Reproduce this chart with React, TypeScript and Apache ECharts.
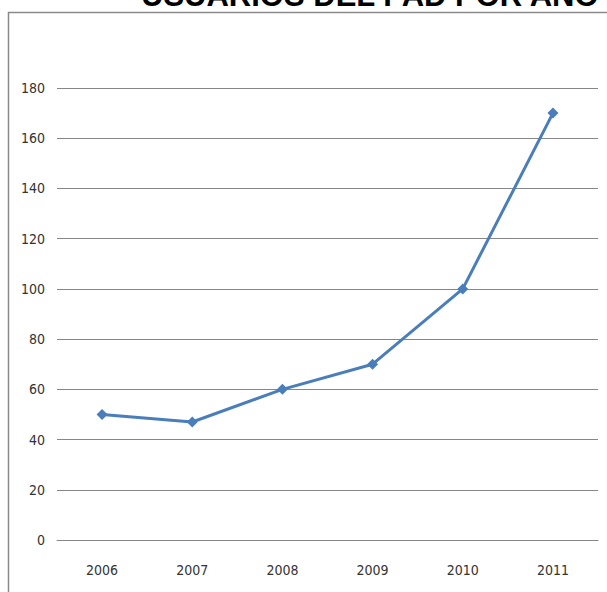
import React, { useEffect, useRef } from "react";
import * as echarts from "echarts";

const titleText = "USUARIOS DEL PAD POR AÑO";
const years = ["2006", "2007", "2008", "2009", "2010", "2011"];
const users = [50, 47, 60, 70, 100, 170];
const yMin = 0;
const yMax = 180;
const yStep = 20;

const labelFont = "'Liberation Sans Narrow', 'DejaVu Sans Condensed', 'Liberation Sans', sans-serif";

export default function App() {
  const ref = useRef<HTMLDivElement>(null);
  useEffect(() => {
    if (!ref.current) return;
    const chart = echarts.init(ref.current, null, { renderer: "svg" });
    chart.setOption({
      animation: false,
      backgroundColor: "#ffffff",
      grid: { left: 57, right: 9, top: 88, bottom: 52, containLabel: false },
      graphic: [
        {
          type: "rect",
          shape: { x: 8.5, y: 12.5, width: 700, height: 700 },
          style: { fill: "none", stroke: "#8a8a8a", lineWidth: 1.5 },
          silent: true,
        },
        {
          type: "text",
          x: 141,
          y: 11,
          style: {
            text: titleText,
            font: "bold 31px 'Liberation Sans', Arial, sans-serif",
            fill: "#000000",
            textVerticalAlign: "bottom",
            verticalAlign: "bottom",
          },
          silent: true,
        },
      ],
      xAxis: {
        type: "category",
        data: years,
        boundaryGap: true,
        axisLine: { show: true, lineStyle: { color: "#868686", width: 1 } },
        axisTick: { show: false },
        axisLabel: {
          margin: 23,
          color: "#333333",
          fontSize: 14,
          fontFamily: labelFont,
        },
        splitLine: { show: false },
      },
      yAxis: {
        type: "value",
        min: yMin,
        max: yMax,
        interval: yStep,
        axisLine: { show: false },
        axisTick: { show: false },
        axisLabel: {
          margin: 12,
          color: "#333333",
          fontSize: 14,
          fontFamily: labelFont,
        },
        splitLine: { show: true, lineStyle: { color: "#868686", width: 1 } },
      },
      series: [
        {
          type: "line",
          data: users,
          lineStyle: { color: "#4a7ebb", width: 3 },
          itemStyle: { color: "#4a7ebb" },
          symbol: "diamond",
          symbolSize: 11,
          showSymbol: true,
        },
      ],
    });
    return () => chart.dispose();
  }, []);
  return (
    <div
      ref={ref}
      style={{ position: "fixed", left: 0, top: 0, width: 607, height: 592 }}
    />
  );
}
